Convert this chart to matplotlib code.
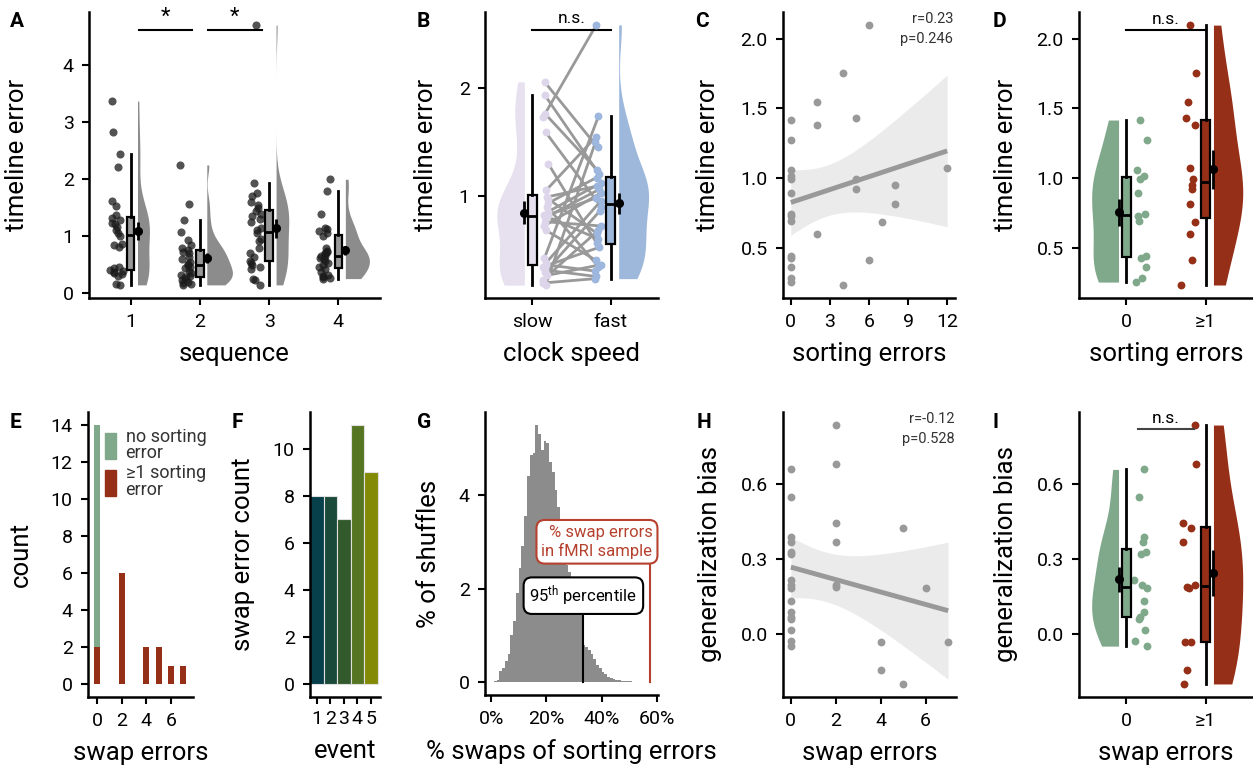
import numpy as np
import matplotlib
matplotlib.use('Agg')
import matplotlib.pyplot as plt
from matplotlib.patches import Patch

plt.rcParams['font.family'] = ['Roboto', 'DejaVu Sans']
plt.rcParams['mathtext.fontset'] = 'custom'
plt.rcParams['mathtext.rm'] = 'Roboto'
plt.rcParams['mathtext.it'] = 'Roboto'

# ---------------- data ----------------
# A: timeline error per sequence
seq_labels = ['1', '2', '3', '4']
seq1 = [3.37, 2.83, 2.45, 2.22, 1.62, 1.53, 1.38, 1.32, 1.28, 1.24, 1.22, 1.17, 1.11, 1.05,
        1.01, 0.86, 0.85, 0.82, 0.47, 0.45, 0.41, 0.40, 0.38, 0.36, 0.34, 0.30, 0.16, 0.15]
seq2 = [2.25, 1.57, 1.29, 1.07, 0.94, 0.85, 0.79, 0.76, 0.73, 0.70, 0.64, 0.61, 0.55, 0.52,
        0.49, 0.46, 0.44, 0.40, 0.35, 0.32, 0.30, 0.28, 0.26, 0.23, 0.20, 0.18, 0.16, 0.15]
seq3 = [4.70, 1.94, 1.76, 1.70, 1.61, 1.55, 1.50, 1.45, 1.40, 1.36, 1.30, 1.26, 1.15, 1.11,
        1.05, 0.95, 0.91, 0.80, 0.70, 0.64, 0.57, 0.53, 0.50, 0.47, 0.42, 0.26, 0.23, 0.15]
seq4 = [2.00, 1.80, 1.39, 1.14, 1.12, 1.09, 1.05, 1.01, 0.79, 0.75, 0.73, 0.71, 0.69, 0.66,
        0.65, 0.62, 0.60, 0.56, 0.54, 0.50, 0.46, 0.42, 0.38, 0.33, 0.30, 0.28, 0.27, 0.26]

# B: paired timeline error, slow vs fast clock
speed_labels = ['slow', 'fast']
slow = [2.06, 1.94, 1.76, 1.73, 1.59, 1.30, 1.05, 0.99, 0.97, 0.93, 0.90, 0.85, 0.82, 0.82,
        0.80, 0.76, 0.72, 0.68, 0.42, 0.38, 0.36, 0.34, 0.31, 0.29, 0.26, 0.22, 0.19, 0.17]
fast = [1.45, 1.20, 1.24, 2.59, 0.90, 0.56, 1.55, 1.09, 0.65, 1.17, 0.34, 1.12, 0.98, 0.60,
        1.06, 0.72, 1.03, 0.40, 1.74, 0.95, 0.30, 0.52, 0.25, 0.86, 0.36, 0.68, 0.23, 1.50]

# C / D: sorting errors vs timeline error
sort_err = [0] * 14 + [2, 2, 2, 4, 4, 5, 5, 5, 6, 6, 7, 8, 8, 12]
time_err = [1.416, 1.27, 1.06, 1.015, 0.99, 0.89, 0.74, 0.73, 0.69, 0.44, 0.43, 0.36, 0.285, 0.255,
            1.545, 1.38, 0.60, 1.75, 0.234, 1.433, 0.99, 0.923, 2.096, 0.41, 0.684, 0.947, 0.818, 1.07]
r_c, p_c = 0.23, 0.246

# E: swap error histogram
e_green_x, e_green_n = [0], [14]
e_red_x, e_red_n = [0, 2, 4, 5, 6, 7], [2, 6, 2, 2, 1, 1]

# F: swap errors per event
events = [1, 2, 3, 4, 5]
event_counts = [8, 8, 7, 11, 9]
event_colors = ['#073f4a', '#1b4a3a', '#335a2c', '#567523', '#838b06']

# G: shuffle distribution (1% bins starting at 0%)
shuffle_pct = [0.01, 0.02, 0.05, 0.25, 0.31, 0.45, 0.6, 1.0, 1.3, 1.9, 2.45, 2.9, 3.55, 4.4,
               4.85, 4.9, 5.5, 5.3, 4.95, 5.15, 5.1, 4.7, 4.5, 4.1, 3.75, 3.4, 2.9, 2.5, 2.35,
               2.1, 1.9, 1.75, 1.55, 0.8, 0.75, 0.68, 0.6, 0.5, 0.38, 0.3, 0.22, 0.17, 0.12,
               0.09, 0.07, 0.05, 0.04, 0.03, 0.03, 0.02, 0.02, 0.01, 0.01, 0.01]
perc95 = 33.4
fmri_pct = 57.4

# H / I: swap errors vs generalization bias
swap_err = [0] * 16 + [2] * 6 + [4, 4, 5, 5, 6, 7]
gen_bias = [0.658, 0.549, 0.390, 0.370, 0.330, 0.320, 0.215, 0.195, 0.185, 0.134, 0.088, 0.070,
            0.062, 0.017, -0.025, -0.047, 0.835, 0.679, 0.446, 0.370, 0.197, 0.190, -0.029,
            -0.142, 0.423, -0.198, 0.186, -0.029]
r_h, p_h = -0.12, 0.528

GREEN = '#80a98c'
RED = '#962f17'
LAV = '#e6e0ef'
BLUE = '#9db8da'
GRAY = '#8c8c8c'
TITLE = 18.5

W, H = 1253, 773
fig = plt.figure(figsize=(W / 100, H / 100), dpi=100)
rng = np.random.default_rng(3)


def make_ax(x0, y0, x1, y1):
    ax = fig.add_axes([x0 / W, 1 - y1 / H, (x1 - x0) / W, (y1 - y0) / H])
    for s in ['top', 'right']:
        ax.spines[s].set_visible(False)
    for s in ['left', 'bottom']:
        ax.spines[s].set_linewidth(1.8)
    ax.tick_params(length=5, width=1.5, labelsize=14, colors='black', pad=6)
    return ax


def labels(ax, xl, yl, ypad=13):
    ax.set_xlabel(xl, fontsize=TITLE, labelpad=8)
    ax.set_ylabel(yl, fontsize=TITLE, labelpad=ypad)


def kde(vals):
    v = np.asarray(vals, float)
    q75, q25 = np.percentile(v, [75, 25])
    bw = 0.9 * min(v.std(ddof=1), (q75 - q25) / 1.34) * len(v) ** -0.2
    y = np.linspace(v.min(), v.max(), 300)
    d = np.exp(-0.5 * ((y[:, None] - v[None, :]) / bw) ** 2).sum(1) / (len(v) * bw * np.sqrt(2 * np.pi))
    return y, d


def box(ax, vals, pos, color):
    ax.boxplot([vals], positions=[pos], widths=0.11, patch_artist=True, showfliers=False,
               showcaps=False, manage_ticks=False,
               boxprops=dict(facecolor=color, edgecolor='black', linewidth=1.6),
               medianprops=dict(color='black', linewidth=2),
               whiskerprops=dict(color='black', linewidth=2), zorder=3)


def mean_se(ax, vals, pos):
    v = np.asarray(vals, float)
    ax.errorbar(pos, v.mean(), yerr=v.std(ddof=1) / np.sqrt(len(v)), fmt='o', color='black',
                ms=5.5, lw=2, capsize=0, zorder=5)


def regression(ax, x, y):
    x = np.asarray(x, float)
    y = np.asarray(y, float)
    b, a = np.polyfit(x, y, 1)
    xs = np.linspace(x.min(), x.max(), 100)
    yh = a + b * xs
    s = np.sqrt(((y - (a + b * x)) ** 2).sum() / (len(x) - 2))
    se = s * np.sqrt(1 / len(x) + (xs - x.mean()) ** 2 / ((x - x.mean()) ** 2).sum())
    ax.fill_between(xs, yh - 2.0555 * se, yh + 2.0555 * se, color='#ebebeb', lw=0, zorder=1)
    ax.scatter(x, y, s=32, color='#999999', lw=0, zorder=2)
    ax.plot(xs, yh, color='#999999', lw=3.5, zorder=3, solid_capstyle='butt')


def letter(x, y, t):
    fig.text(x / W, 1 - y / H, t, fontsize=15, fontweight='bold', va='top', ha='left')


# ---------------- A ----------------
axA = make_ax(89, 12, 380, 298)
seqs = [seq1, seq2, seq3, seq4]
dens = [kde(s) for s in seqs]
scaleA = 0.37 / max(d.max() for _, d in dens)
for i, s in enumerate(seqs):
    pos = i + 1
    y, d = dens[i]
    axA.fill_betweenx(y, pos + 0.1, pos + 0.1 + d * scaleA, color=GRAY, lw=0, zorder=1)
    xs = pos - 0.2 + rng.uniform(-0.09, 0.09, len(s))
    axA.scatter(xs, s, s=34, color='#1a1a1a', alpha=0.75, lw=0, zorder=2)
    box(axA, s, pos, '#999999')
    mean_se(axA, s, pos + 0.1)
for x0, x1 in [(1.12, 1.89), (2.12, 2.89)]:
    axA.plot([x0, x1], [4.61, 4.61], color='black', lw=1.5)
    axA.text((x0 + x1) / 2, 4.66, '*', ha='center', va='bottom', fontsize=16)
axA.set_xlim(0.4, 4.6)
axA.set_ylim(-0.08, 4.93)
axA.set_xticks([1, 2, 3, 4], seq_labels)
axA.set_yticks([0, 1, 2, 3, 4])
labels(axA, 'sequence', 'timeline error', ypad=24)

# ---------------- B ----------------
axB = make_ax(485, 12, 658, 298)
ys, ds = kde(slow)
yf, df = kde(fast)
axB.fill_betweenx(ys, -0.1, -0.1 - ds * 0.35 / ds.max(), color=LAV, lw=0, zorder=1)
axB.fill_betweenx(yf, 1.1, 1.1 + df * 0.38 / df.max(), color=BLUE, lw=0, zorder=1)
xs_s = 0.17 + rng.uniform(-0.04, 0.04, len(slow))
xs_f = 0.84 + rng.uniform(-0.04, 0.04, len(fast))
for i in range(len(slow)):
    axB.plot([xs_s[i], xs_f[i]], [slow[i], fast[i]], color='#999999', lw=2, zorder=2)
axB.scatter(xs_s, slow, s=32, color='#ddd5ea', lw=0, zorder=3)
axB.scatter(xs_f, fast, s=32, color='#9cb6dd', lw=0, zorder=3)
box(axB, slow, 0, LAV)
box(axB, fast, 1, BLUE)
mean_se(axB, slow, -0.1)
mean_se(axB, fast, 1.1)
axB.plot([0, 1], [2.545, 2.545], color='black', lw=1.5)
axB.text(0.5, 2.58, 'n.s.', ha='center', va='bottom', fontsize=12.5)
axB.set_xlim(-0.6, 1.6)
axB.set_ylim(0.05, 2.71)
axB.set_xticks([0, 1], speed_labels)
axB.set_yticks([1, 2])
labels(axB, 'clock speed', 'timeline error', ypad=15)

# ---------------- C ----------------
axC = make_ax(783, 12, 955, 298)
regression(axC, sort_err, time_err)
axC.text(0.99, 1.0, f'r={r_c}\np={p_c}', transform=axC.transAxes, ha='right', va='top',
         fontsize=10.5, color='#333333', linespacing=1.5)
axC.set_xlim(-0.6, 12.6)
axC.set_ylim(0.141, 2.19)
axC.set_xticks([0, 3, 6, 9, 12])
axC.set_yticks([0.5, 1.0, 1.5, 2.0], ['0.5', '1.0', '1.5', '2.0'])
labels(axC, 'sorting errors', 'timeline error', ypad=15)


def two_group(ax, g0, g1, ns_y, ns_x=(0, 1), ns_color='black'):
    y0, d0 = kde(g0)
    y1, d1 = kde(g1)
    ax.fill_betweenx(y0, -0.1, -0.1 - d0 * 0.34 / d0.max(), color=GREEN, lw=0, zorder=1)
    ax.fill_betweenx(y1, 1.1, 1.1 + d1 * 0.37 / d1.max(), color=RED, lw=0, zorder=1)
    ax.scatter(0.19 + rng.uniform(-0.1, 0.1, len(g0)), g0, s=32, color=GREEN, lw=0, zorder=2)
    ax.scatter(0.79 + rng.uniform(-0.1, 0.1, len(g1)), g1, s=32, color=RED, lw=0, zorder=2)
    box(ax, g0, 0, GREEN)
    box(ax, g1, 1, RED)
    mean_se(ax, g0, -0.1)
    mean_se(ax, g1, 1.1)
    ax.plot(ns_x, [ns_y, ns_y], color=ns_color, lw=1.5, zorder=4)
    ax.set_xlim(-0.6, 1.6)
    ax.set_xticks([0, 1], ['0', '≥1'])


# ---------------- D ----------------
axD = make_ax(1079, 12, 1253, 298)
te = np.array(time_err)
se_ = np.array(sort_err)
two_group(axD, te[se_ == 0], te[se_ > 0], 2.062)
axD.text(0.49, 2.085, 'n.s.', ha='center', va='bottom', fontsize=12.5)
axD.set_ylim(0.141, 2.19)
axD.set_yticks([0.5, 1.0, 1.5, 2.0], ['0.5', '1.0', '1.5', '2.0'])
labels(axD, 'sorting errors', 'timeline error')

# ---------------- E ----------------
axE = make_ax(88, 412, 193, 697)
axE.bar(e_green_x, e_green_n, width=0.5, color=GREEN, lw=0, zorder=1)
axE.bar(e_red_x, e_red_n, width=0.5, color=RED, lw=0, zorder=2)
leg = axE.legend([Patch(color=GREEN), Patch(color=RED)], ['no sorting\nerror', '≥1 sorting\nerror'],
                 loc='upper left', bbox_to_anchor=(0.16, 0.945), frameon=False, fontsize=13,
                 handlelength=0.6, handleheight=1.85, handletextpad=0.55, labelspacing=0.1,
                 borderaxespad=0.0, borderpad=0.0, labelcolor='#333333')
for t in leg.get_texts():
    t.set_linespacing(0.9)
axE.set_xlim(-0.73, 7.78)
axE.set_ylim(-0.7, 14.7)
axE.set_xticks([0, 2, 4, 6])
axE.set_yticks(range(0, 15, 2))
labels(axE, 'swap errors', 'count')

# ---------------- F ----------------
axF = make_ax(310, 412, 380, 697)
axF.bar(events, event_counts, width=1, color=event_colors, edgecolor='#e0e0e0', lw=0.8)
axF.set_xlim(0.5, 5.67)
axF.set_ylim(-0.55, 11.55)
axF.set_xticks(events)
axF.set_yticks(range(0, 11, 2))
axF.tick_params(axis='x', pad=4)
labels(axF, 'event', 'swap error count')

# ---------------- G ----------------
axG = make_ax(485, 412, 658, 695)
axG.bar(np.arange(len(shuffle_pct)), shuffle_pct, width=1, align='edge', color=GRAY, lw=0)
axG.plot([perc95, perc95], [0, 1.5], color='black', lw=1.5, zorder=3)
axG.plot([fmri_pct, fmri_pct], [0, 2.54], color='#b5412e', lw=1.5, zorder=3)
axG.text(perc95, 1.85, '95$^{\\mathrm{th}}$ percentile', ha='center', va='center', fontsize=12,
         zorder=5, bbox=dict(boxstyle='round,pad=0.35,rounding_size=0.5', fc='white', ec='black', lw=1.5))
axG.text(58.4, 3.0, '% swap errors\nin fMRI sample', ha='right', va='center', fontsize=12,
         color='#b5412e', multialignment='right', zorder=5,
         bbox=dict(boxstyle='round,pad=0.3,rounding_size=0.5', fc='white', ec='#b5412e', lw=1.5))
axG.set_xlim(-2.2, 60.4)
axG.set_ylim(-0.27, 5.77)
axG.set_xticks([0, 20, 40, 60], ['0%', '20%', '40%', '60%'])
axG.set_yticks([0, 2, 4])
labels(axG, '% swaps of sorting errors', '% of shuffles')

# ---------------- H ----------------
axH = make_ax(783, 412, 956, 697)
regression(axH, swap_err, gen_bias)
axH.text(0.99, 1.0, f'r={r_h}\np={p_h}', transform=axH.transAxes, ha='right', va='top',
         fontsize=10.5, color='#333333', linespacing=1.5)
axH.set_xlim(-0.35, 7.35)
axH.set_ylim(-0.25, 0.887)
axH.set_xticks([0, 2, 4, 6])
axH.set_yticks([0.0, 0.3, 0.6], ['0.0', '0.3', '0.6'])
labels(axH, 'swap errors', 'generalization bias')

# ---------------- I ----------------
axI = make_ax(1079, 412, 1253, 697)
gb = np.array(gen_bias)
sw = np.array(swap_err)
two_group(axI, gb[sw == 0], gb[sw > 0], 0.819, ns_x=(0.14, 0.86), ns_color='#444444')
axI.text(0.5, 0.832, 'n.s.', ha='center', va='bottom', fontsize=12.5)
axI.set_ylim(-0.25, 0.887)
axI.set_yticks([0.0, 0.3, 0.6], ['0.0', '0.3', '0.6'])
labels(axI, 'swap errors', 'generalization bias')

for x, y, t in [(10, 12, 'A'), (417, 12, 'B'), (695, 12, 'C'), (993, 12, 'D'),
                (10, 413, 'E'), (232, 413, 'F'), (417, 413, 'G'), (697, 413, 'H'), (993, 413, 'I')]:
    letter(x, y, t)

fig.savefig('out.png', dpi=100)
